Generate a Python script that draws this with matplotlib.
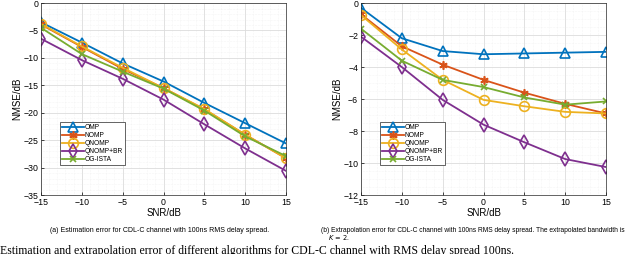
import numpy as np
import matplotlib.pyplot as plt
from matplotlib.ticker import MultipleLocator

snr = [-15, -10, -5, 0, 5, 10, 15]
names = ['OMP', 'NOMP', 'QNOMP', 'QNOMP+BR', 'OG-ISTA']

# (a) estimation error
est_omp = [-3.5, -7.2, -11.0, -14.3, -18.2, -21.9, -25.6]
est_nomp = [-3.9, -8.0, -12.0, -15.5, -19.4, -24.0, -28.3]
est_qnomp = [-3.8, -7.9, -11.8, -15.5, -19.3, -24.0, -28.3]
est_qnomp_br = [-6.5, -10.4, -13.8, -17.6, -22.1, -26.5, -30.6]
est_ogista = [-4.5, -9.3, -12.5, -15.6, -19.6, -24.3, -27.9]

# (b) extrapolation error
ext_omp = [-0.3, -2.2, -3.0, -3.2, -3.15, -3.1, -3.05]
ext_nomp = [-0.7, -2.7, -3.85, -4.8, -5.6, -6.3, -6.9]
ext_qnomp = [-0.75, -2.9, -4.8, -6.05, -6.45, -6.8, -6.9]
ext_qnomp_br = [-2.1, -4.0, -6.05, -7.6, -8.7, -9.75, -10.25]
ext_ogista = [-1.6, -3.6, -4.8, -5.25, -5.9, -6.35, -6.15]

colors = ['#0072BD', '#D95319', '#EDB120', '#7E2F8E', '#77AC30']
markers = ['^', (6, 2, 0), 'o', 'd', 'x']
msizes = [7, 6, 7, 7, 5]

plt.rcParams['font.family'] = 'Liberation Sans'

fig = plt.figure(figsize=(6.4, 2.54), dpi=100)
ax1 = fig.add_axes([0.064, 0.232, 0.383, 0.756])
ax2 = fig.add_axes([0.564, 0.232, 0.383, 0.756])

def draw(ax, series, ylim, ymajor, yminor):
    for s, name, c, m, ms in zip(series, names, colors, markers, msizes):
        ax.plot(snr, s, color=c, marker=m, markersize=ms, markerfacecolor='none',
                markeredgewidth=1.2, linewidth=1.3, label=name)
    ax.set_xlim(-15, 15)
    ax.set_ylim(*ylim)
    ax.xaxis.set_major_locator(MultipleLocator(5))
    ax.xaxis.set_minor_locator(MultipleLocator(1))
    ax.yaxis.set_major_locator(MultipleLocator(ymajor))
    ax.yaxis.set_minor_locator(MultipleLocator(yminor))
    ax.grid(which='major', color='#dcdcdc', linewidth=0.6)
    ax.grid(which='minor', color='#ececec', linewidth=0.4, linestyle=':')
    ax.tick_params(labelsize=6.3, length=2, width=0.5, direction='in', pad=2)
    ax.tick_params(which='minor', length=0)
    for sp in ax.spines.values():
        sp.set_linewidth(0.5)
        sp.set_color('#262626')
    ax.set_xlabel('SNR/dB', fontsize=7, labelpad=1)
    ax.set_ylabel('NMSE/dB', fontsize=7, labelpad=1)
    leg = ax.legend(loc='lower left', bbox_to_anchor=(0.065, 0.14), fontsize=4.8,
                    handlelength=3.2, handletextpad=0.2, labelspacing=0.15,
                    borderpad=0.3, fancybox=False, framealpha=1, edgecolor='#262626')
    leg.get_frame().set_linewidth(0.5)

draw(ax1, [est_omp, est_nomp, est_qnomp, est_qnomp_br, est_ogista], (-35, 0), 5, 1)
draw(ax2, [ext_omp, ext_nomp, ext_qnomp, ext_qnomp_br, ext_ogista], (-12, 0), 2, 0.5)

fig.text(0.25, 0.094, '(a) Estimation error for CDL-C channel with 100ns RMS delay spread.',
         fontsize=5.0, ha='center', va='center')
fig.text(0.502, 0.094, '(b) Extrapolation error for CDL-C channel with 100ns RMS delay spread. '
         'The extrapolated bandwidth is', fontsize=4.75, ha='left', va='center')
fig.text(0.512, 0.063, r'$K\,=\,2$.', fontsize=4.75, ha='left', va='center')
fig.text(0.0, 0.035, 'Estimation and extrapolation error of different algorithms for CDL-C '
         'channel with RMS delay spread 100ns.', fontsize=8.5, family='Liberation Serif',
         ha='left', va='top')

fig.savefig('out.png', dpi=100)
